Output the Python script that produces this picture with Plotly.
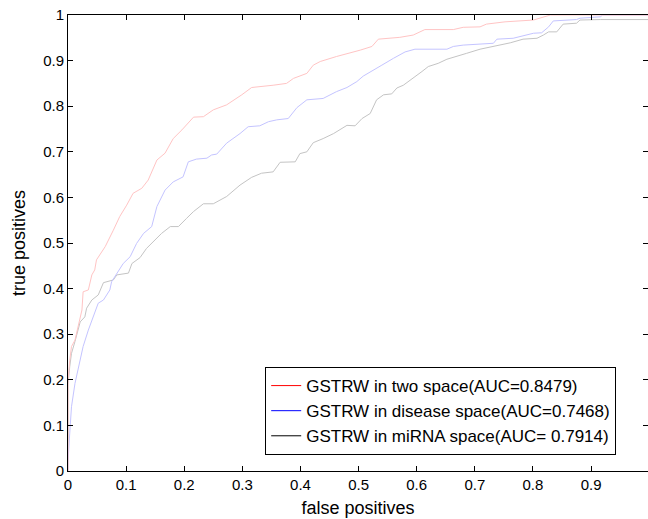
import plotly.graph_objects as go

# ROC curve: GSTRW in two space (AUC=0.8479)
two_fpr = [0, 0, 0.003, 0.006, 0.012, 0.018, 0.024, 0.026, 0.035, 0.041, 0.046, 0.049, 0.058,
           0.064, 0.078, 0.089, 0.101, 0.112, 0.127, 0.138, 0.153, 0.167, 0.181, 0.196, 0.216,
           0.233, 0.250, 0.273, 0.299, 0.316, 0.353, 0.376, 0.388, 0.411, 0.422, 0.434, 0.462,
           0.485, 0.503, 0.523, 0.534, 0.571, 0.594, 0.614, 0.663, 0.680, 0.709, 0.720, 0.752,
           0.801, 0.812, 0.824, 0.830, 1.0]
two_tpr = [0, 0.20, 0.243, 0.273, 0.287, 0.324, 0.353, 0.393, 0.397, 0.430, 0.441, 0.463, 0.481,
           0.492, 0.528, 0.558, 0.583, 0.609, 0.620, 0.638, 0.682, 0.697, 0.729, 0.748, 0.776,
           0.777, 0.792, 0.803, 0.825, 0.841, 0.846, 0.850, 0.861, 0.872, 0.890, 0.898, 0.909,
           0.916, 0.923, 0.931, 0.947, 0.951, 0.956, 0.968, 0.968, 0.973, 0.974, 0.980, 0.985,
           0.989, 0.993, 0.998, 1.0, 1.0]

# ROC curve: GSTRW in disease space (AUC=0.7468)
dis_fpr = [0, 0, 0.003, 0.006, 0.012, 0.018, 0.026, 0.035, 0.041, 0.052, 0.061, 0.072, 0.075,
           0.084, 0.095, 0.107, 0.118, 0.130, 0.144, 0.153, 0.167, 0.181, 0.198, 0.207, 0.221,
           0.239, 0.247, 0.256, 0.273, 0.296, 0.310, 0.330, 0.345, 0.359, 0.379, 0.394, 0.411,
           0.439, 0.451, 0.462, 0.480, 0.497, 0.508, 0.523, 0.540, 0.560, 0.580, 0.597, 0.652,
           0.663, 0.680, 0.732, 0.738, 0.766, 0.801, 0.815, 0.827, 0.835, 0.875, 0.881, 0.916,
           0.920, 1.0]
dis_tpr = [0, 0.02, 0.083, 0.141, 0.192, 0.229, 0.273, 0.309, 0.331, 0.368, 0.375, 0.397, 0.415,
           0.434, 0.455, 0.470, 0.499, 0.521, 0.536, 0.580, 0.616, 0.634, 0.645, 0.678, 0.684,
           0.686, 0.693, 0.695, 0.719, 0.740, 0.755, 0.757, 0.766, 0.770, 0.773, 0.797, 0.814,
           0.817, 0.825, 0.832, 0.841, 0.854, 0.866, 0.878, 0.890, 0.905, 0.919, 0.925, 0.925,
           0.931, 0.934, 0.938, 0.947, 0.949, 0.960, 0.961, 0.974, 0.987, 0.990, 0.993, 0.996,
           1.0, 1.0]

# ROC curve: GSTRW in miRNA space (AUC=0.7914)
mir_fpr = [0, 0, 0.003, 0.006, 0.012, 0.018, 0.021, 0.029, 0.032, 0.041, 0.052, 0.061, 0.078,
           0.084, 0.104, 0.110, 0.124, 0.135, 0.150, 0.161, 0.176, 0.190, 0.204, 0.216, 0.233,
           0.250, 0.273, 0.296, 0.316, 0.333, 0.353, 0.365, 0.391, 0.399, 0.411, 0.422, 0.439,
           0.457, 0.480, 0.494, 0.506, 0.520, 0.531, 0.543, 0.557, 0.566, 0.577, 0.594, 0.609,
           0.620, 0.637, 0.652, 0.672, 0.686, 0.709, 0.732, 0.761, 0.783, 0.807, 0.818, 0.827,
           0.841, 0.852, 0.875, 0.881, 0.916, 1.0, 1.0]
mir_tpr = [0, 0.19, 0.229, 0.258, 0.284, 0.309, 0.327, 0.338, 0.357, 0.375, 0.386, 0.413, 0.419,
           0.430, 0.434, 0.455, 0.468, 0.488, 0.507, 0.521, 0.536, 0.536, 0.554, 0.569, 0.586,
           0.586, 0.602, 0.627, 0.644, 0.653, 0.656, 0.677, 0.678, 0.696, 0.700, 0.720, 0.729,
           0.740, 0.758, 0.757, 0.773, 0.784, 0.814, 0.825, 0.827, 0.840, 0.846, 0.861, 0.876,
           0.887, 0.894, 0.903, 0.910, 0.916, 0.925, 0.931, 0.939, 0.947, 0.949, 0.956, 0.963,
           0.963, 0.980, 0.982, 0.989, 0.990, 0.990, 1.0]

names = ["GSTRW in two space(AUC=0.8479)",
         "GSTRW in disease space(AUC=0.7468)",
         "GSTRW in miRNA space(AUC= 0.7914)"]
curve_colors = ["#ffc4c4", "#c4c4ff", "#c4c4c4"]
legend_colors = ["#ff0000", "#0000ff", "#000000"]

tick_vals = [i / 10 for i in range(11)]
tick_text = ["0", "0.1", "0.2", "0.3", "0.4", "0.5", "0.6", "0.7", "0.8", "0.9", "1"]

FONT = "Liberation Sans, Arial, sans-serif"

fig = go.Figure()
series = [(two_fpr, two_tpr), (dis_fpr, dis_tpr), (mir_fpr, mir_tpr)]
for idx in [2, 1, 0]:
    xs, ys = series[idx]
    fig.add_trace(go.Scatter(x=xs, y=ys, mode="lines", showlegend=False,
                             line=dict(color=curve_colors[idx], width=1)))
for idx in range(3):
    fig.add_trace(go.Scatter(x=[None], y=[None], mode="lines", name=names[idx],
                             line=dict(color=legend_colors[idx], width=1)))
fig.add_trace(go.Scatter(x=[None], y=[None], yaxis="y2", showlegend=False))

fig.update_layout(
    width=648, height=519,
    margin=dict(l=68, r=0, t=15, b=48),
    paper_bgcolor="white", plot_bgcolor="white",
    font=dict(family=FONT, size=15, color="black"),
    xaxis=dict(range=[0, 0.998], tickvals=tick_vals, ticktext=tick_text,
               ticks="inside", ticklen=5, tickcolor="black",
               showline=True, linecolor="black", linewidth=1, mirror="ticks",
               showgrid=False, zeroline=False,
               title=dict(text="false positives", standoff=9)),
    yaxis=dict(range=[0, 1], tickvals=tick_vals, ticktext=tick_text,
               ticks="inside", ticklen=5, tickcolor="black",
               showline=True, linecolor="black", linewidth=1,
               showgrid=False, zeroline=False,
               title=dict(text="true positives", standoff=12)),
    yaxis2=dict(range=[0, 1], tickvals=tick_vals, overlaying="y", side="right",
                anchor="x", ticks="inside", ticklen=5, tickcolor="black",
                showticklabels=False, showline=False, showgrid=False, zeroline=False),
    legend=dict(x=0.34, y=0.228, xanchor="left", yanchor="top",
                bgcolor="white", bordercolor="black", borderwidth=1,
                font=dict(family=FONT, size=17), tracegroupgap=0),
    showlegend=True,
)

fig.write_html("out.html")
